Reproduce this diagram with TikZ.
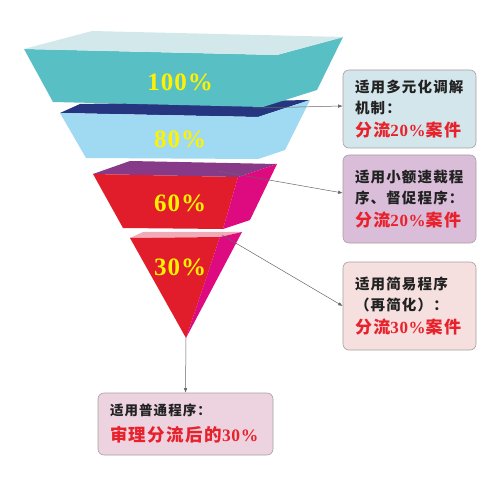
\documentclass[tikz,border=0pt]{standalone}
\usepackage{fontspec}
\setmainfont{Liberation Serif}
\newfontfamily\cjk{Noto Sans CJK SC}[LetterSpace=8]
\newfontfamily\pctfont{Liberation Serif}[LetterSpace=4]
\usetikzlibrary{arrows.meta}

\definecolor{tealfront}{HTML}{58C0C4}
\definecolor{tealtop}{HTML}{D3E8EA}
\definecolor{navytop}{HTML}{263580}
\definecolor{skyfront}{HTML}{A0DAF2}
\definecolor{plumtop}{HTML}{873A88}
\definecolor{redfront}{HTML}{E11D2B}
\definecolor{pinkside}{HTML}{DE0A80}
\definecolor{rosetop}{HTML}{F2AAB8}
\definecolor{pctyellow}{HTML}{FFF200}
\definecolor{notered}{HTML}{E8222C}
\definecolor{notetext}{HTML}{222222}
\definecolor{noteline}{HTML}{A8A0A0}
\definecolor{linkgray}{HTML}{666666}

\begin{document}
\begin{tikzpicture}[
  x=1pt, y=-1pt,
  font=\cjk\bfseries,
  pct/.style={font=\pctfont\bfseries\fontsize{25}{25}\selectfont, text=pctyellow},
  note/.style={draw=noteline, line width=0.6pt, rounded corners=6pt, align=left, text=notetext,
    minimum width=133pt, text width=109pt, inner xsep=12pt, inner ysep=2pt,
    font=\cjk\bfseries\fontsize{14.5}{21}\selectfont},
  arr/.style={-{Latex[length=4.5pt,width=3.5pt]}, draw=linkgray, line width=0.5pt}
]
\useasboundingbox[fill=white] (0,0) rectangle (500,494);

% funnel layers, back to front
\fill[navytop] (60,113) -- (258,117) -- (310,100) -- (80,104) -- cycle;
\fill[skyfront] (60,113) -- (258,117) -- (310,100) -- (285,150) -- (258,159) -- (86,158) -- cycle;
\fill[tealfront] (24,49) -- (277,55) -- (343,37) -- (317,90) -- (263,107) -- (53,102) -- cycle;
\fill[tealtop] (92,31) -- (344,37) -- (277,55) -- (24,49) -- cycle;
\fill[plumtop] (130,161) -- (277,164) -- (238,177) -- (93,174) -- cycle;
\fill[redfront] (93,174) -- (238,177) -- (223,229) -- (123,228) -- cycle;
\fill[pinkside] (238,177) -- (277,164) -- (250,220) -- (223,229) -- cycle;
\fill[rosetop] (143,232) -- (242,232) -- (220,237) -- (130,238) -- cycle;
\fill[redfront] (130,238) -- (220,237) -- (186,338) -- cycle;
\fill[pinkside] (220,237) -- (242,232) -- (186,338) -- cycle;

\node[pct] (p100) at (180,82) {100\%};
\node[pct] (p80) at (180,139) {80\%};
\node[pct] (p60) at (180,203) {60\%};
\node[pct] (p30) at (180,267) {30\%};

\coordinate (tip) at (186,338);
\coordinate (c1) at (253,108);
\coordinate (c2) at (218,171);
\coordinate (c3) at (222,235);

% notes
\node[note, fill={rgb,255:red,211;green,230;blue,235}, minimum height=78pt] (mediate) at (409.5,109)
  {适用多元化调解\\机制：\\[2pt]{\fontsize{17}{21}\selectfont\color{notered}分流{\pctfont 20\%}案件}};
\node[note, fill={rgb,255:red,217;green,189;blue,217}, minimum height=88pt] (smallclaim) at (409.5,199)
  {适用小额速裁程\\序、督促程序：\\[2pt]{\fontsize{17}{21}\selectfont\color{notered}分流{\pctfont 20\%}案件}};
\node[note, fill={rgb,255:red,245;green,223;blue,223}, minimum height=88pt] (summary) at (409.5,306)
  {适用简易程序\\（再简化）：\\[2pt]{\fontsize{17}{21}\selectfont\color{notered}分流{\pctfont 30\%}案件}};
\node[note, fill={rgb,255:red,237;green,211;blue,223}, minimum width=175pt, text width=151pt,
  minimum height=62pt, font=\cjk\bfseries\fontsize{13.5}{26}\selectfont] (ordinary) at (185.5,424)
  {适用普通程序：\\{\fontsize{17.5}{26}\selectfont\color{notered}审理分流后的{\pctfont 30\%}}};

\draw[arr] (c1) -- ([yshift=3pt]mediate.west);
\draw[arr] (c2) -- ([yshift=6pt]smallclaim.west);
\draw[arr] (c3) -- (summary.west);
\draw[arr] (tip) -- (ordinary.north);
\end{tikzpicture}
\end{document}
